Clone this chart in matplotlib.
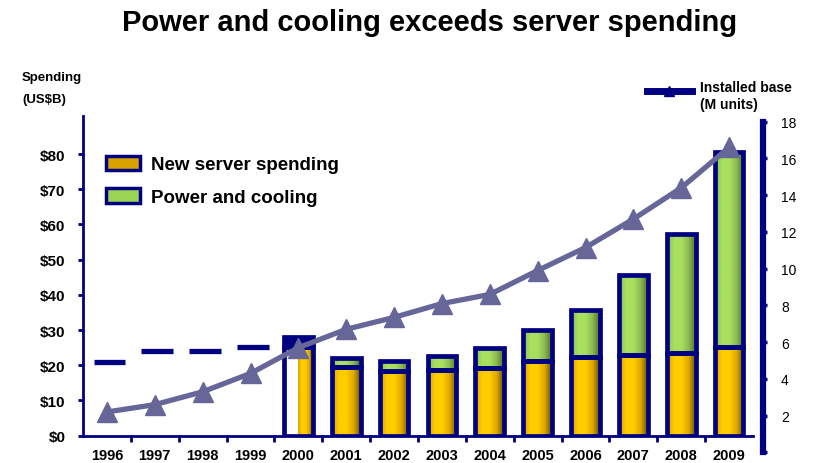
import numpy as np
import matplotlib
matplotlib.use("Agg")
import matplotlib.pyplot as plt
from matplotlib.colors import LinearSegmentedColormap
from matplotlib.lines import Line2D
from matplotlib.patches import Patch

plt.rcParams['font.family'] = ['Liberation Sans', 'DejaVu Sans']

# Years on the x axis
years = ['1996', '1997', '1998', '1999', '2000', '2001', '2002',
         '2003', '2004', '2005', '2006', '2007', '2008', '2009']

# Installed base of servers, M units (right axis)
installed_base = [2.2, 2.6, 3.3, 4.3, 5.7, 6.7, 7.35, 8.1, 8.6, 9.9,
                  11.15, 12.7, 14.4, 16.6]

# Stacked bars, US$B
bar_years = ['2000', '2001', '2002', '2003', '2004', '2005', '2006',
             '2007', '2008', '2009']
server_spend = [25.2, 19.4, 18.4, 18.8, 19.2, 21.3, 22.3, 22.9, 23.6, 25.1]
power_cooling = [2.9, 2.8, 2.7, 3.8, 5.6, 8.6, 13.3, 22.7, 33.6, 55.6]

# Dashed marks for the early years, US$B
dash_years = ['1996', '1997', '1998', '1999']
dash_values = [20.9, 24.1, 24.1, 25.1]

NAVY = '#000080'
LINE = '#666699'

gold_cmap = LinearSegmentedColormap.from_list(
    'gold', ['#D9A800', '#FFCC00', '#FFCC00', '#DDAA00', '#6E5200'])
green_cmap = LinearSegmentedColormap.from_list(
    'green', ['#8CBF4C', '#A8E060', '#A8E060', '#8CBB4E', '#4F6E2A'])
grad = np.linspace(0, 1, 64).reshape(1, -1)

fig = plt.figure(figsize=(8.14, 4.64), dpi=100)
W, H = 814, 464

# main axes (spending)
ax = fig.add_axes([83 / W, (H - 436.7) / H, 670 / W, 319.7 / H])
x = np.arange(len(years))
bx = np.array([years.index(y) for y in bar_years])

b1 = ax.bar(bx, server_spend, width=0.6, facecolor='none',
            edgecolor=NAVY, linewidth=3.4, zorder=3)
b2 = ax.bar(bx, power_cooling, bottom=server_spend, width=0.6,
            facecolor='none', edgecolor=NAVY, linewidth=3.4, zorder=3)

# gradient fills inside the bars
for yr, bar in zip(bar_years, b1):
    x0, w = bar.get_x(), bar.get_width()
    y0, h = bar.get_y(), bar.get_height()
    if yr == '2000':
        x0 = x0 + w / 2
        w = w / 2
    ax.imshow(grad, extent=(x0, x0 + w, y0, y0 + h), cmap=gold_cmap,
              aspect='auto', interpolation='bilinear', zorder=2)
for yr, bar in zip(bar_years, b2):
    if yr == '2000':
        bar.set_facecolor(NAVY)
        continue
    x0, w = bar.get_x(), bar.get_width()
    y0, h = bar.get_y(), bar.get_height()
    ax.imshow(grad, extent=(x0, x0 + w, y0, y0 + h), cmap=green_cmap,
              aspect='auto', interpolation='bilinear', zorder=2)

# dashes before 2000
dx = np.array([years.index(y) for y in dash_years])
ax.hlines(dash_values, dx - 0.28, dx + 0.38, colors=NAVY, linewidth=3.8, zorder=3)

ax.set_xlim(-0.5, 13.5)
ax.set_ylim(0, 90.8)
for s in ['top', 'right']:
    ax.spines[s].set_visible(False)
for s in ['left', 'bottom']:
    ax.spines[s].set_color(NAVY)
    ax.spines[s].set_linewidth(2)

ax.set_yticks(np.arange(0, 81, 10))
ax.set_yticklabels(['$%d' % v for v in range(0, 81, 10)])
ax.tick_params(axis='y', direction='out', length=3.5, width=2, color=NAVY,
               pad=9, labelsize=11)
ax.set_xticks(x)
ax.set_xticklabels(years, fontweight='bold')
ax.set_xticks(x[:-1] + 0.5, minor=True)
ax.tick_params(axis='x', which='major', length=0, pad=8.5, labelsize=10.5)
ax.tick_params(axis='x', which='minor', direction='out', length=4, width=2,
               color=NAVY)
for lbl in ax.get_yticklabels():
    lbl.set_fontweight('bold')

ax.legend(handles=[Patch(facecolor='#D8A200', edgecolor=NAVY, linewidth=2.5),
                   Patch(facecolor='#9CD455', edgecolor=NAVY, linewidth=2.5)],
          labels=['New server spending', 'Power and cooling'],
          loc='upper left', bbox_to_anchor=(0.035, 0.876), frameon=False,
          borderpad=0, borderaxespad=0, handlelength=1.8, handleheight=0.8,
          handletextpad=0.55, labelspacing=0.8,
          prop={'size': 13.5, 'weight': 'bold'})

# right axes (installed base)
ax2 = fig.add_axes([83 / W, (H - 453.4) / H, 680 / W, 330.7 / H])
ax2.patch.set_alpha(0)
ax2.set_xlim(-0.5, 13.5 + 10 / 47.86)
ax2.set_ylim(0, 18)
ax2.plot(x, installed_base, color=LINE, linewidth=3.8, marker='^',
         markersize=15, markeredgecolor=LINE, zorder=5, clip_on=False)
for s in ['top', 'left', 'bottom']:
    ax2.spines[s].set_visible(False)
ax2.spines['right'].set_color(NAVY)
ax2.spines['right'].set_linewidth(4.5)
ax2.set_xticks([])
ax2.yaxis.tick_right()
ax2.set_yticks(np.arange(0, 19, 2))
ax2.set_yticklabels([''] + [str(v) for v in range(2, 19, 2)])
ax2.tick_params(axis='y', direction='out', length=3, width=2.5, color=NAVY,
                pad=10, labelsize=10)

# texts
fig.text(0.528, 1 - 23 / H, 'Power and cooling exceeds server spending',
         ha='center', va='center', fontsize=21, fontweight='bold')
fig.text(22 / W, 1 - 78 / H, 'Spending', ha='left', va='center',
         fontsize=9.5, fontweight='bold')
fig.text(22 / W, 1 - 100 / H, '(US$B)', ha='left', va='center',
         fontsize=9.5, fontweight='bold')
fig.add_artist(Line2D([647 / W, 692 / W], [1 - 92 / H] * 2, color=NAVY,
                      linewidth=5, transform=fig.transFigure))
fig.add_artist(Line2D([669 / W], [1 - 92 / H], color=NAVY, marker='^',
                      markersize=7, transform=fig.transFigure))
fig.text(700 / W, 1 - 88 / H, 'Installed base', ha='left', va='center',
         fontsize=10, fontweight='bold')
fig.text(700 / W, 1 - 105 / H, '(M units)', ha='left', va='center',
         fontsize=10, fontweight='bold')

fig.savefig('out.png', dpi=100)
